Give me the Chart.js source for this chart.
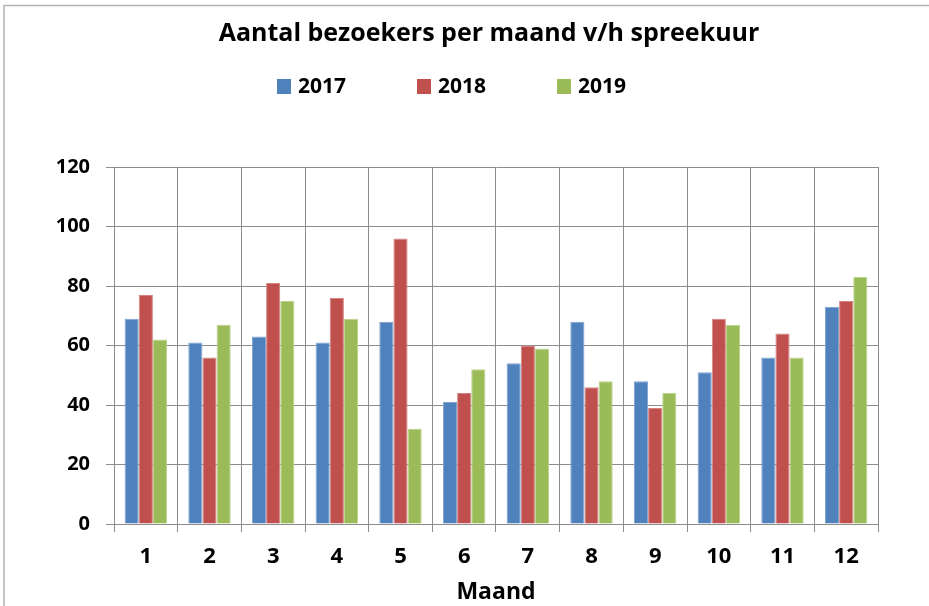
<!DOCTYPE html>
<html>
<head>
<meta charset="utf-8">
<title>Aantal bezoekers per maand</title>
<script src="https://cdn.jsdelivr.net/npm/chart.js@4.4.0/dist/chart.umd.min.js"></script>
<style>
    html, body { margin: 0; padding: 0; background: #fff; overflow: hidden; }
    .chart-box { position: absolute; left: 0; top: 0; width: 978px; height: 606px; }
</style>
</head>
<body>
<div class="chart-box">
    <canvas id="myChart"></canvas>
</div>
<script>
// data
const maanden = ['1', '2', '3', '4', '5', '6', '7', '8', '9', '10', '11', '12']
const jaren = ['2017', '2018', '2019']
const bezoekers2017 = [69, 61, 63, 61, 68, 41, 54, 68, 48, 51, 56, 73]
const bezoekers2018 = [77, 56, 81, 76, 96, 44, 60, 46, 39, 69, 64, 75]
const bezoekers2019 = [62, 67, 75, 69, 32, 52, 59, 48, 44, 67, 56, 83]
const yMin = 0
const yMax = 120
const yStep = 20

const kleuren = ['#4F81BD', '#C0504D', '#9BBB59']
const randKleuren = ['#7FA3D1', '#D48380', '#BBD28C']
const fontName = '"Open Sans", Lato, sans-serif'
const gridColor = '#8C8C8C'

// frame round the chart (like the excel chart border)
const framePlugin = {
    id: 'frame',
    beforeDraw(chart) {
        const c = chart.ctx
        c.save()
        c.fillStyle = '#fff'
        c.fillRect(0, 0, chart.width, chart.height)
        c.strokeStyle = '#B4B4B4'
        c.lineWidth = 1.5
        c.strokeRect(4, 5.5, chart.width + 20, chart.height + 20)
        c.restore()
    }
}

// legend drawn by hand, items sit far apart
const legendPlugin = {
    id: 'handLegend',
    afterDraw(chart) {
        const c = chart.ctx
        c.save()
        c.font = 'bold 21px ' + fontName
        c.textBaseline = 'middle'
        c.textAlign = 'left'
        let x = 277
        chart.data.datasets.forEach(function(ds) {
            c.fillStyle = ds.backgroundColor
            c.fillRect(x, 79, 14, 15)
            c.fillStyle = '#000'
            c.fillText(ds.label, x + 21, 87)
            x += 140
        })
        c.restore()
    }
}

const ctx = document.getElementById('myChart').getContext('2d')

let data = {
    labels: maanden,
    datasets: [{
        label: jaren[0],
        data: bezoekers2017,
        backgroundColor: kleuren[0],
        borderColor: randKleuren[0],
        borderWidth: 1
    }, {
        label: jaren[1],
        data: bezoekers2018,
        backgroundColor: kleuren[1],
        borderColor: randKleuren[1],
        borderWidth: 1
    }, {
        label: jaren[2],
        data: bezoekers2019,
        backgroundColor: kleuren[2],
        borderColor: randKleuren[2],
        borderWidth: 1
    }]
}

let options = {
    responsive: true,
    maintainAspectRatio: false,
    animation: false,
    categoryPercentage: 2 / 3,
    barPercentage: 1,
    layout: {
        padding: 0
    },
    plugins: {
        legend: { display: false },
        tooltip: { enabled: false },
        title: {
            display: true,
            text: 'Aantal bezoekers per maand v/h spreekuur',
            color: '#000',
            font: { family: fontName, size: 25, weight: 'bold' },
            padding: { top: 19, bottom: 118 }
        }
    },
    scales: {
        x: {
            grid: { color: gridColor, lineWidth: 1, tickLength: 8, offset: true },
            border: { color: gridColor },
            ticks: {
                color: '#000',
                font: { family: fontName, size: 22, weight: 'bold' },
                padding: 12,
                maxRotation: 0
            },
            title: {
                display: true,
                text: 'Maand',
                color: '#000',
                font: { family: fontName, size: 23, weight: 'bold' },
                padding: { top: 0, bottom: 0 }
            },
            afterFit: function(scale) {
                scale.height = 82
            }
        },
        y: {
            min: yMin,
            max: yMax,
            grid: { color: gridColor, lineWidth: 1, tickLength: 8 },
            border: { color: gridColor },
            ticks: {
                stepSize: yStep,
                color: '#000',
                font: { family: fontName, size: 20, weight: 'bold' },
                padding: 16
            },
            afterFit: function(scale) {
                scale.width = 114
            }
        },
        // empty space right of the plot, keeps the title centred on the whole frame
        leeg: {
            type: 'linear',
            position: 'right',
            display: true,
            grid: { display: false },
            border: { display: false },
            ticks: { display: false },
            afterFit: function(scale) {
                scale.width = 100
            }
        }
    }
}

let myChart = new Chart(ctx, {
    type: 'bar',
    data: data,
    options: options,
    plugins: [framePlugin, legendPlugin]
})
</script>
</body>
</html>
